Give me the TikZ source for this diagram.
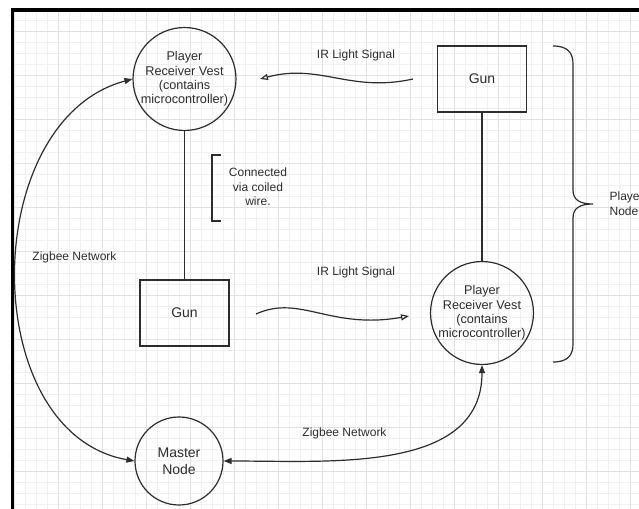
\documentclass[tikz,border=0pt]{standalone}
\usepackage{fontspec}
\setmainfont{Liberation Sans}
\usetikzlibrary{arrows.meta,calc}
\definecolor{GridMinor}{RGB}{240,240,240}
\definecolor{GridMajor}{RGB}{225,225,225}
\definecolor{Ink}{RGB}{45,45,45}
\tikzset{
  vest/.style={
    draw=Ink,
    circle,
    minimum size=75pt,
    inner sep=0pt,
    align=center,
    text=Ink,
    font=\fontsize{9.5}{10.8}\selectfont,
    line width=0.9pt
  },
  gun/.style={draw=Ink,minimum width=66.75pt,minimum height=49.5pt,inner sep=0pt,text=Ink,font=\fontsize{10.5}{12}\selectfont,line width=0.9pt},
  hub/.style={draw=Ink,circle,minimum size=66pt,inner sep=0pt,align=center,text=Ink,font=\fontsize{10.5}{12.8}\selectfont,line width=0.9pt},
  note/.style={inner sep=1pt,align=center,text=Ink,font=\fontsize{9}{11}\selectfont},
  link/.style={draw=Ink,line width=0.9pt},
  ir/.style={draw=Ink,line width=0.9pt,-{Triangle[open,length=6pt,width=4.5pt]}},
  zigbee/.style={draw=Ink,line width=0.9pt,{Triangle[length=6pt,width=4.5pt]}-{Triangle[length=6pt,width=4.5pt]}}
}

\begin{document}
\begin{tikzpicture}[x=0.75pt,y=0.75pt]
\useasboundingbox (0,0) rectangle (639,508);

% Background grid and frame
\begin{scope}
  \clip (12.5,0) rectangle (639,498);
  \draw[GridMinor,line width=0.6pt,shift={(3.7,3.7)},step={(11,11)}] (-11,-11) grid (660,520);
  \draw[GridMajor,line width=0.6pt,shift={(14.7,36.7)},step={(44,44)}] (-44,-44) grid (660,520);
\end{scope}
\draw[line width=2.4pt] (12.5,-4) -- (12.5,498) -- (645,498);

% Left player: vest wired to its gun
\node[vest] (vestA) at (184.5,429) {Player\\Receiver Vest\\(contains\\microcontroller)};
\node[gun] (gunA) at (184.5,195) {Gun};
\draw[link] (vestA) -- (gunA);

% Right player: gun wired to its vest
\node[gun] (gunB) at (482,429) {Gun};
\node[vest] (vestB) at (482,195) {Player\\Receiver Vest\\(contains\\microcontroller)};
\draw[link] (gunB) -- (vestB);

\node[hub] (master) at (179,47) {Master\\Node};

% IR signals between the players
\coordinate (irTopFrom) at (413,429);
\coordinate (irTopTo) at (260,429);
\draw[ir] (irTopFrom) .. controls (350,415) and (320,445) .. (irTopTo);
\node[note] (irTop) at (356,453) {IR Light Signal};

\coordinate (irLowFrom) at (256,194);
\coordinate (irLowTo) at (409,192);
\draw[ir] (irLowFrom) .. controls (300,214) and (330,178) .. (irLowTo);
\node[note] (irLow) at (356,236) {IR Light Signal};

% Zigbee links to the master node
\draw[zigbee] (vestA.west) to[out=195,in=170,looseness=1.07] (master.west);
\node[note] (zbLeft) at (74.5,251) {Zigbee Network};
\draw[zigbee] (master.east) to[out=0,in=270] (vestB.south);
\node[note] (zbLow) at (344.5,75) {Zigbee Network};

% Coiled wire bracket
\node[note] (wire) at (258,321) {Connected\\via coiled\\wire.};
\draw[link] (221,353) -- (212,353) -- (212,287) -- (221,287);

% Player node brace
\draw[link] (553,462) .. controls (568,462) and (573,455) .. (573,444) -- (573,318)
  .. controls (573,308) and (580,304) .. (593,304)
  .. controls (580,304) and (573,300) .. (573,290) -- (573,164)
  .. controls (573,153) and (568,146) .. (553,146);
\node[note,anchor=west,align=left] (playerNode) at (608,304) {Player\\Node};

\end{tikzpicture}
\end{document}
